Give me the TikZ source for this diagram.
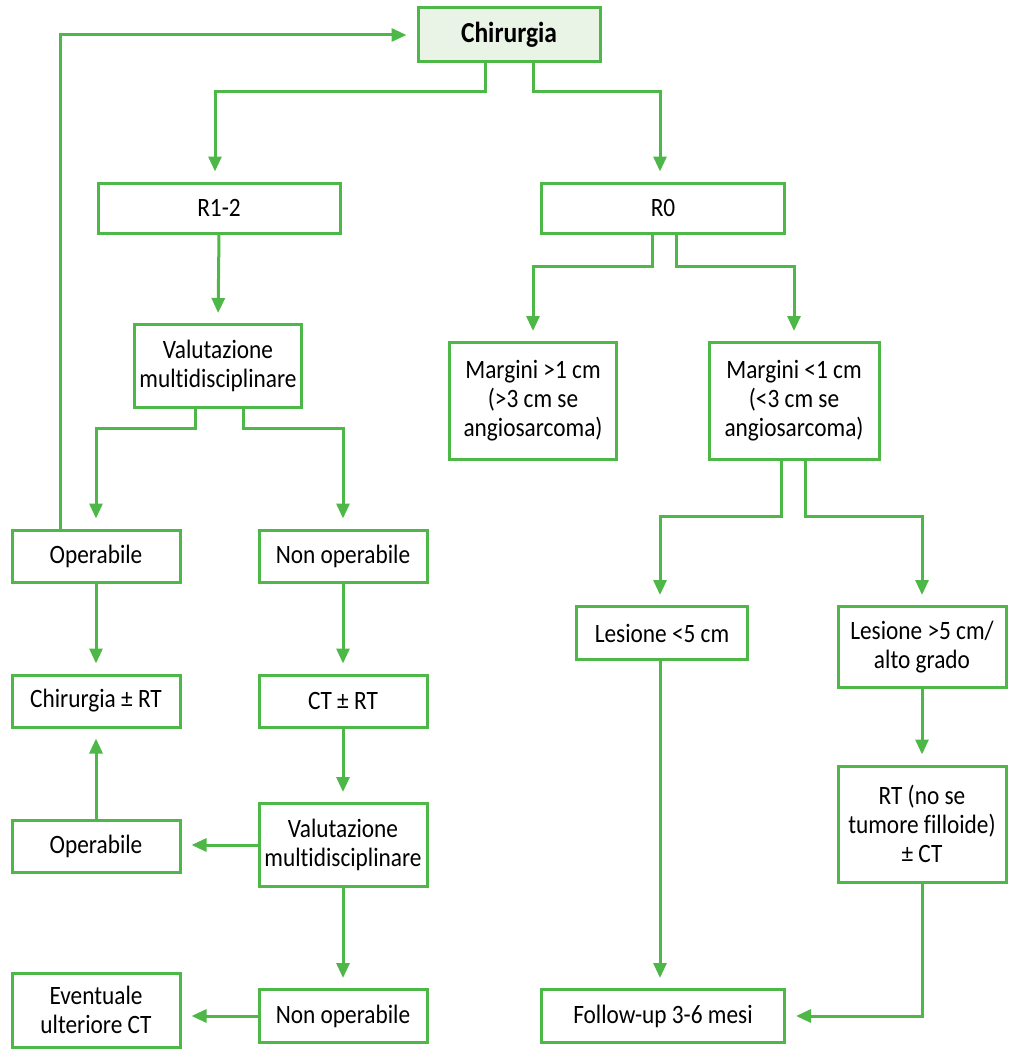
\documentclass[tikz,border=0pt]{standalone}
\usepackage{fontspec}
\setmainfont{Carlito}[FakeStretch=0.88,Ligatures=NoCommon]
\usetikzlibrary{arrows.meta,calc}
\definecolor{flowgreen}{HTML}{4DB848}
\definecolor{headfill}{HTML}{E9F4E7}
\begin{document}
\begin{tikzpicture}[x=1pt,y=-1pt,
  box/.style={draw=flowgreen,line width=3pt,fill=white,inner sep=0pt,
    align=center,font=\fontsize{26.5}{29}\selectfont},
  arr/.style={draw=flowgreen,line width=3pt,
    -{Triangle[length=15pt,width=13pt]},shorten >=10pt}]
\useasboundingbox (0,0) rectangle (1019,1057);

% boxes
\node[box,fill=headfill,minimum width=182pt,minimum height=54pt,font=\fontsize{29}{32}\selectfont\bfseries] (chir) at (509,35) {Chirurgia};
\node[box,minimum width=242pt,minimum height=50pt] (r12) at (219,208) {R1-2};
\node[box,minimum width=243pt,minimum height=50pt] (r0) at (663,208) {R0};
\node[box,minimum width=167pt,minimum height=83pt] (val1) at (218,366) {Valutazione\\multidisciplinare};
\node[box,minimum width=167pt,minimum height=117pt] (mg1) at (533,401) {Margini >1 cm\\(>3 cm se\\angiosarcoma)};
\node[box,minimum width=170pt,minimum height=117pt] (mg2) at (794,401) {Margini <1 cm\\(<3 cm se\\angiosarcoma)};
\node[box,minimum width=168pt,minimum height=52pt] (op1) at (96,556) {Operabile};
\node[box,minimum width=168pt,minimum height=52pt] (nop1) at (343,556) {Non operabile};
\node[box,minimum width=171pt,minimum height=53pt] (les1) at (662,633) {Lesione <5 cm};
\node[box,minimum width=168pt,minimum height=81pt] (les2) at (922,647) {Lesione >5 cm/\\alto grado};
\node[box,minimum width=168pt,minimum height=52pt] (chrt) at (96,701) {Chirurgia ± RT};
\node[box,minimum width=168pt,minimum height=52pt] (ctrt) at (343,701) {CT ± RT};
\node[box,minimum width=168pt,minimum height=116pt] (rt) at (922,824) {RT (no se\\tumore filloide)\\± CT};
\node[box,minimum width=168pt,minimum height=52pt] (op2) at (96,846) {Operabile};
\node[box,minimum width=168pt,minimum height=83pt] (val2) at (343,845) {Valutazione\\multidisciplinare};
\node[box,minimum width=168pt,minimum height=74pt] (evct) at (96,1010) {Eventuale\\ulteriore CT};
\node[box,minimum width=168pt,minimum height=53pt] (nop2) at (343,1016) {Non operabile};
\node[box,minimum width=243pt,minimum height=53pt] (fu) at (663,1016) {Follow-up 3-6 mesi};

% connectors
\draw[arr] ([xshift=-24pt]chir.south) -- ++(0,28) -| ([xshift=-4pt]r12.north);
\draw[arr] ([xshift=24pt]chir.south) -- ++(0,28) -| ([xshift=-3pt]r0.north);
\draw[arr] (r12.south) -- (val1.north);
\draw[arr] ([xshift=-11pt]r0.south) -- ++(0,32) -| (mg1.north);
\draw[arr] ([xshift=13pt]r0.south) -- ++(0,32) -| (mg2.north);
\draw[arr] ([xshift=-23pt]val1.south) -- ++(0,19) -| (op1.north);
\draw[arr] ([xshift=25pt]val1.south) -- ++(0,19) -| (nop1.north);
\draw[arr] ([xshift=-36pt]op1.north) |- (chir.west);
\draw[arr] (op1.south) -- (chrt.north);
\draw[arr] (nop1.south) -- (ctrt.north);
\draw[arr] (ctrt.south) -- (val2.north);
\draw[arr] (val2.south) -- (nop2.north);
\draw[arr] (val2.west) -- (op2.east |- val2.west);
\draw[arr] (op2.north) -- (chrt.south);
\draw[arr] (nop2.west) -- (evct.east |- nop2.west);
\draw[arr] ([xshift=-13pt]mg2.south) -- ++(0,55) -| ([xshift=-2pt]les1.north);
\draw[arr] ([xshift=11pt]mg2.south) -- ++(0,55) -| (les2.north);
\draw[arr] ([xshift=-2pt]les1.south) -- ([xshift=-3pt]fu.north);
\draw[arr] (les2.south) -- (rt.north);
\draw[arr] (rt.south) |- (fu.east);
\end{tikzpicture}
\end{document}
